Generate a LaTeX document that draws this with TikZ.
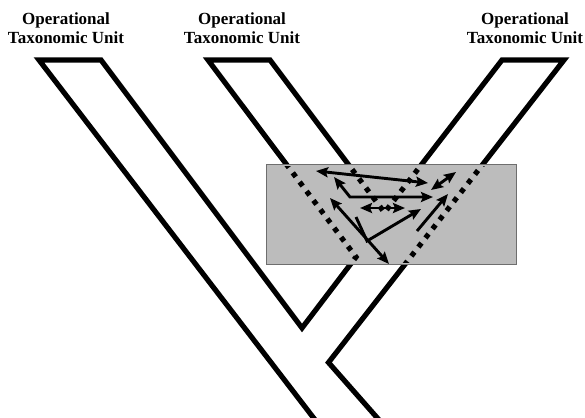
\documentclass[tikz,border=0pt]{standalone}
\usepackage{fontspec}
\setmainfont{Liberation Serif}
\usetikzlibrary{arrows.meta}
\definecolor{boxfill}{RGB}{188,188,188}
\definecolor{boxline}{RGB}{110,110,110}
\tikzset{
  branch/.style={line width=5.2pt, line join=miter, miter limit=20},
  dotbranch/.style={line width=5.2pt, dash pattern=on 5pt off 6.5pt},
  tipA/.tip={Stealth[length=12pt,width=10pt,inset=2pt]},
  arr/.style={line width=2.9pt, line join=miter, -tipA},
  darr/.style={line width=2.9pt, line join=miter, tipA-tipA},
  otu/.style={font=\fontsize{17}{19.5}\selectfont\bfseries, align=center, inner sep=0pt, anchor=north},
  hgtbox/.style={fill=boxfill, draw=boxline, line width=1.1pt}
}
\begin{document}
\begin{tikzpicture}[x=1pt,y=-1pt]
\useasboundingbox (0,0) rectangle (585,417);
\fill[white] (0,0) rectangle (585,417);
\clip (0,0) rectangle (585,417);

% labels
\node[otu] (otu1) at (66,12.5) {Operational\\Taxonomic Unit};
\node[otu] (otu2) at (242,12.5) {Operational\\Taxonomic Unit};
\node[otu] (otu3) at (525,12.5) {Operational\\Taxonomic Unit};

% tree outline points
\coordinate (p1) at (319,425);
\coordinate (p2) at (39,60);
\coordinate (p3) at (101,60);
\coordinate (p4) at (302,328);
\coordinate (p5) at (356,257);
\coordinate (p6) at (208,60);
\coordinate (p7) at (270,60);
\coordinate (p8) at (384.5,212.6);
\coordinate (p9) at (502,60);
\coordinate (p10) at (564,60);
\coordinate (p11) at (328.5,362.5);
\coordinate (p12) at (383.5,425);

\draw[branch] (p1) -- (p2) -- (p3) -- (p4) -- (p5) -- (p6) -- (p7) -- (p8) -- (p9) -- (p10) -- (p11) -- (p12);

% shaded box
\node[draw=none, fill=none, inner sep=0pt, minimum width=249pt, minimum height=99pt] (hgt) at (391.5,214.5) {};
\draw[hgtbox] (hgt.north west) rectangle (hgt.south east);

\begin{scope}
\clip ([shift={(1.5pt,1.5pt)}]hgt.south west) rectangle ([shift={(-1.5pt,-1.5pt)}]hgt.north east);
\draw[dotbranch] (p1) -- (p2) -- (p3) -- (p4) -- (p5) -- (p6) -- (p7) -- (p8) -- (p9) -- (p10) -- (p11) -- (p12);
\end{scope}

% arrows
\coordinate (a1s) at (316,171); \coordinate (a1e) at (428,183);
\coordinate (a2s) at (334,177); \coordinate (a2m) at (350,197); \coordinate (a2e) at (433,197);
\coordinate (a3s) at (360,208); \coordinate (a3e) at (405,208);
\coordinate (a4s) at (330,198); \coordinate (a4e) at (389,264);
\coordinate (a5s) at (356,217); \coordinate (a5m) at (367,241); \coordinate (a5e) at (421,209);
\coordinate (a6s) at (417,231); \coordinate (a6e) at (448,194);
\coordinate (a7s) at (431,190); \coordinate (a7e) at (456,172);

\draw[darr] (a1s) -- (a1e);
\draw[darr] (a2s) -- (a2m) -- (a2e);
\draw[darr] (a3s) -- (a3e);
\draw[darr] (a4s) -- (a4e);
\draw[arr] (a5s) -- (a5m) -- (a5e);
\draw[arr] (a6s) -- (a6e);
\draw[darr] (a7s) -- (a7e);
\end{tikzpicture}
\end{document}
